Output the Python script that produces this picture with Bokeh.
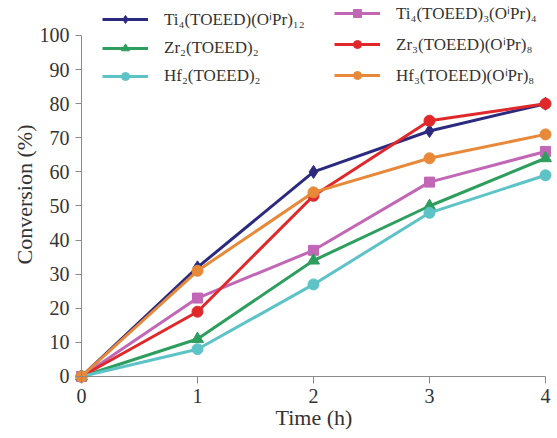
from bokeh.plotting import figure
from bokeh.models import Legend, LegendItem, FixedTicker, LinearAxis, Title
from bokeh.embed import file_html
from bokeh.resources import INLINE

time_h = [0, 1, 2, 3, 4]
ti4_oipr12 = [0, 32, 60, 72, 80]
ti4_toeed3 = [0, 23, 37, 57, 66]
zr2_toeed2 = [0, 11, 34, 50, 64]
zr3_oipr8 = [0, 19, 53, 75, 80]
hf2_toeed2 = [0, 8, 27, 48, 59]
hf3_oipr8 = [0, 31, 54, 64, 71]

x_ticks = [0, 1, 2, 3, 4]
y_ticks = [0, 10, 20, 30, 40, 50, 60, 70, 80, 90, 100]

series = [
    ("Ti\u2084(TOEED)(O\u2071Pr)\u2081\u2082", ti4_oipr12, "#2B2A80", "diamond", 13),
    ("Ti\u2084(TOEED)\u2083(O\u2071Pr)\u2084", ti4_toeed3, "#C267B6", "square", 10),
    ("Zr\u2082(TOEED)\u2082", zr2_toeed2, "#2E9E5E", "triangle", 12),
    ("Zr\u2083(TOEED)(O\u2071Pr)\u2088", zr3_oipr8, "#E0282B", "circle", 11),
    ("Hf\u2082(TOEED)\u2082", hf2_toeed2, "#5DC3C6", "circle", 11),
    ("Hf\u2083(TOEED)(O\u2071Pr)\u2088", hf3_oipr8, "#E8893A", "circle", 11),
]

FONT = "Liberation Serif"
AXIS_COLOR = "#8a8a8a"
TEXT_COLOR = "#333333"

p = figure(width=557, height=438, x_range=(-0.0948, 4.1034), y_range=(-3.52, 110.26),
           output_backend="svg", toolbar_location=None,
           min_border_left=70, min_border_right=0, min_border_top=0, min_border_bottom=50)
p.outline_line_color = None
p.grid.visible = False

items = {}
for label, ys, color, marker, size in series:
    lr = p.line(time_h, ys, line_color=color, line_width=3)
    sr = p.scatter(time_h, ys, marker=marker, size=size, fill_color=color, line_color=color)
    items[label] = LegendItem(label=label, renderers=[lr, sr])

# axis lines and ticks, fixed at zero (labels hidden)
for ax in (p.xaxis[0], p.yaxis[0]):
    ax.fixed_location = 0
    ax.axis_line_color = AXIS_COLOR
    ax.major_tick_line_color = AXIS_COLOR
    ax.minor_tick_line_color = None
    ax.major_tick_in = 0
    ax.major_label_text_font_size = "0px"
    ax.major_label_text_alpha = 0
    ax.major_label_standoff = 0
p.xaxis[0].ticker = FixedTicker(ticks=x_ticks)
p.yaxis[0].ticker = FixedTicker(ticks=y_ticks)
p.xaxis[0].bounds = (0, 4)
p.yaxis[0].bounds = (0, 100)
p.xaxis[0].major_tick_out = 7
p.yaxis[0].major_tick_out = 6

# label axes (no lines / ticks)
xlab = LinearAxis(ticker=FixedTicker(ticks=x_ticks))
ylab = LinearAxis(ticker=FixedTicker(ticks=y_ticks))
for ax in (xlab, ylab):
    ax.axis_line_color = None
    ax.major_tick_line_color = None
    ax.minor_tick_line_color = None
    ax.major_tick_in = 0
    ax.major_tick_out = 0
    ax.major_label_text_font = FONT
    ax.major_label_text_font_size = "20px"
    ax.major_label_text_color = TEXT_COLOR
xlab.major_label_standoff = 0
ylab.major_label_standoff = 1
p.add_layout(xlab, "below")
p.add_layout(ylab, "left")

p.add_layout(Title(text="Time (h)", align="center", offset=13, standoff=-6,
                   text_font=FONT, text_font_size="22px", text_font_style="normal",
                   text_color=TEXT_COLOR), "below")
p.add_layout(Title(text="Conversion (%)", align="center", offset=-18, standoff=0,
                   text_font=FONT, text_font_size="22px", text_font_style="normal",
                   text_color=TEXT_COLOR), "left")

col1 = [series[0][0], series[2][0], series[4][0]]
col2 = [series[1][0], series[3][0], series[5][0]]
for labels, xoff in ((col1, 32), (col2, 264)):
    lg = Legend(items=[items[l] for l in labels], location=(xoff, 302),
                glyph_width=46, glyph_height=20, label_standoff=16, spacing=8,
                padding=0, margin=0, label_text_font=FONT, label_text_font_size="17px",
                label_text_color=TEXT_COLOR, background_fill_alpha=0, border_line_alpha=0)
    p.add_layout(lg, "center")

open("out.html", "w").write(file_html(p, INLINE))
